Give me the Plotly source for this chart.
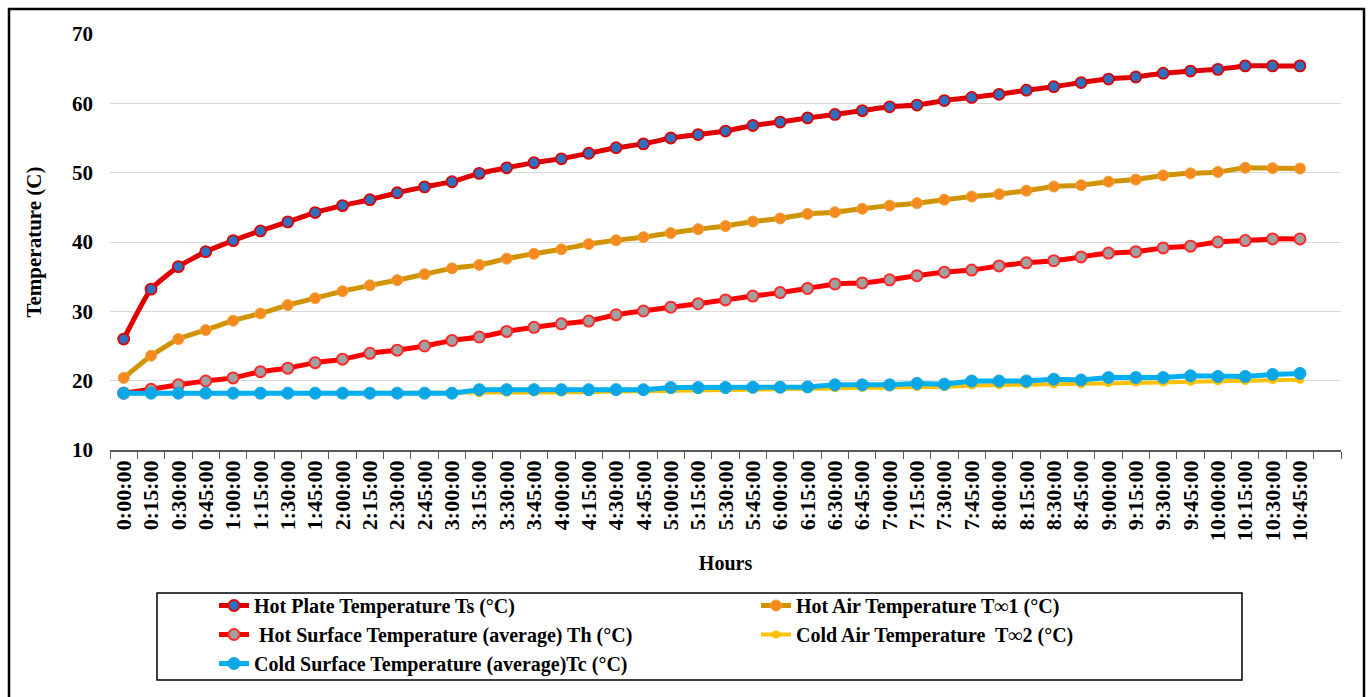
import plotly.graph_objects as go

# ---- data ----
time_labels = ["0:00:00", "0:15:00", "0:30:00", "0:45:00", "1:00:00", "1:15:00", "1:30:00", "1:45:00",
               "2:00:00", "2:15:00", "2:30:00", "2:45:00", "3:00:00", "3:15:00", "3:30:00", "3:45:00",
               "4:00:00", "4:15:00", "4:30:00", "4:45:00", "5:00:00", "5:15:00", "5:30:00", "5:45:00",
               "6:00:00", "6:15:00", "6:30:00", "6:45:00", "7:00:00", "7:15:00", "7:30:00", "7:45:00",
               "8:00:00", "8:15:00", "8:30:00", "8:45:00", "9:00:00", "9:15:00", "9:30:00", "9:45:00",
               "10:00:00", "10:15:00", "10:30:00", "10:45:00"]

hot_plate_ts = [26.0, 33.2, 36.45, 38.6, 40.2, 41.6, 42.9, 44.25, 45.25, 46.1, 47.1, 47.95,
                48.7, 49.9, 50.7, 51.45, 52.0, 52.8, 53.6, 54.15, 55.0, 55.5, 56.0, 56.8,
                57.3, 57.9, 58.4, 58.95, 59.5, 59.75, 60.4, 60.85, 61.3, 61.9, 62.4, 63.0,
                63.5, 63.8, 64.35, 64.65, 64.9, 65.4, 65.4, 65.4]

hot_air_t1 = [20.4, 23.6, 26.0, 27.3, 28.65, 29.7, 30.9, 31.9, 32.9, 33.75, 34.5, 35.35,
              36.2, 36.7, 37.6, 38.3, 38.95, 39.7, 40.25, 40.7, 41.3, 41.85, 42.3, 42.95,
              43.4, 44.05, 44.3, 44.8, 45.25, 45.6, 46.1, 46.55, 46.9, 47.4, 48.0, 48.2,
              48.7, 49.0, 49.6, 49.9, 50.1, 50.7, 50.65, 50.6]

hot_surface_th = [18.2, 18.75, 19.4, 19.95, 20.4, 21.3, 21.8, 22.6, 23.1, 23.95, 24.4, 25.0,
                  25.8, 26.3, 27.1, 27.7, 28.2, 28.6, 29.5, 30.05, 30.6, 31.1, 31.65, 32.2,
                  32.7, 33.3, 33.95, 34.1, 34.55, 35.15, 35.65, 35.95, 36.55, 37.0, 37.3, 37.85,
                  38.4, 38.6, 39.15, 39.4, 40.0, 40.2, 40.45, 40.45]

cold_air_t2 = [18.2, 18.2, 18.2, 18.2, 18.2, 18.2, 18.2, 18.2, 18.2, 18.2, 18.2, 18.2,
               18.2, 18.2, 18.25, 18.3, 18.3, 18.35, 18.4, 18.45, 18.6, 18.6, 18.65, 18.7,
               18.75, 18.8, 18.9, 18.95, 19.0, 19.1, 19.1, 19.3, 19.35, 19.4, 19.5, 19.5,
               19.65, 19.7, 19.75, 19.85, 19.9, 19.95, 20.05, 20.15]

cold_surface_tc = [18.2, 18.2, 18.2, 18.2, 18.2, 18.2, 18.2, 18.2, 18.2, 18.2, 18.2, 18.2,
                   18.2, 18.7, 18.7, 18.7, 18.7, 18.7, 18.7, 18.7, 19.0, 19.0, 19.0, 19.05,
                   19.05, 19.1, 19.4, 19.4, 19.4, 19.6, 19.5, 19.95, 19.95, 19.95, 20.2, 20.1,
                   20.45, 20.45, 20.45, 20.7, 20.6, 20.6, 20.9, 21.05]

y_ticks = [10, 20, 30, 40, 50, 60, 70]

# ---- figure ----
x_idx = list(range(len(time_labels)))
FONT = "Liberation Serif"

fig = go.Figure()

fig.add_trace(go.Scatter(
    x=x_idx, y=hot_plate_ts, name="Hot Plate Temperature Ts (°C)", mode="lines+markers",
    line=dict(color="#E00000", width=5, shape="spline", smoothing=0.5),
    marker=dict(size=11, color="#2E6FBF", line=dict(color="#E00000", width=1.8))))
fig.add_trace(go.Scatter(
    x=x_idx, y=hot_air_t1, name="Hot Air Temperature T\u221e1 (°C)", mode="lines+markers",
    line=dict(color="#CF9400", width=5, shape="spline", smoothing=0.5),
    marker=dict(size=11, color="#F58A1F", line=dict(color="#F2A03A", width=1))))
fig.add_trace(go.Scatter(
    x=x_idx, y=hot_surface_th, name=" Hot Surface Temperature (average) Th (°C)", mode="lines+markers",
    line=dict(color="#FF0000", width=5, shape="spline", smoothing=0.5),
    marker=dict(size=11, color="#A0A0A0", line=dict(color="#FF2A2A", width=2))))
fig.add_trace(go.Scatter(
    x=x_idx, y=cold_air_t2, name="Cold Air Temperature  T\u221e2 (°C)", mode="lines+markers",
    line=dict(color="#FFC000", width=4),
    marker=dict(size=8, color="#FFC000")))
fig.add_trace(go.Scatter(
    x=x_idx, y=cold_surface_tc, name="Cold Surface Temperature (average)Tc (°C)", mode="lines+markers",
    line=dict(color="#00B0F0", width=5),
    marker=dict(size=12, color="#0AA6E6", line=dict(color="#14A8E6", width=1))))

L, R, T, B = 110, 29, 34, 247
W, H = 1370, 697
pw, ph = W - L - R, H - T - B


def px_x(p):
    return (p - L) / pw


def px_y(p):
    return (H - B - p) / ph


fig.update_layout(
    width=W, height=H,
    margin=dict(l=L, r=R, t=T, b=B, autoexpand=False),
    paper_bgcolor="white", plot_bgcolor="white",
    font=dict(family=FONT, color="black", size=20, weight="bold"),
    showlegend=True,
    legend=dict(
        orientation="h", x=px_x(214), y=px_y(586), xanchor="left", yanchor="top",
        entrywidth=497, entrywidthmode="pixels",
        font=dict(family=FONT, size=20, color="black", weight="bold"),
        bgcolor="rgba(0,0,0,0)", borderwidth=0, tracegroupgap=0,
    ),
    xaxis=dict(
        range=[-0.5, 44.5], tickmode="array", tickvals=x_idx, ticktext=time_labels,
        tickangle=-90, ticks="", showgrid=False, zeroline=False,
        showline=True, linecolor="#595959", linewidth=1.5,
        tickfont=dict(family=FONT, size=22, weight="bold"),
        minor=dict(tick0=-0.5, dtick=1, ticks="outside", ticklen=7, tickcolor="#595959",
                   tickwidth=1.2, showgrid=False),
        title=dict(text="Hours", font=dict(family=FONT, size=20, weight="bold"), standoff=16),
    ),
    yaxis=dict(
        range=[10, 70], tickmode="array", tickvals=y_ticks, showgrid=True,
        gridcolor="#D9D9D9", gridwidth=1.2, zeroline=False, showline=False, ticks="",
        ticklabelstandoff=16,
        tickfont=dict(family=FONT, size=21, weight="bold"),
        title=dict(text="Temperature (C)", font=dict(family=FONT, size=21, weight="bold"), standoff=24),
    ),
    shapes=[
        dict(type="rect", xref="paper", yref="paper",
             x0=px_x(157), x1=px_x(1242), y0=px_y(680), y1=px_y(593),
             line=dict(color="black", width=1.5), fillcolor="rgba(0,0,0,0)", layer="below"),
        dict(type="rect", xref="paper", yref="paper",
             x0=px_x(9), x1=px_x(1364), y0=px_y(702), y1=px_y(9),
             line=dict(color="black", width=2.5), fillcolor="rgba(0,0,0,0)", layer="below"),
    ],
)

fig.write_html("out.html")
